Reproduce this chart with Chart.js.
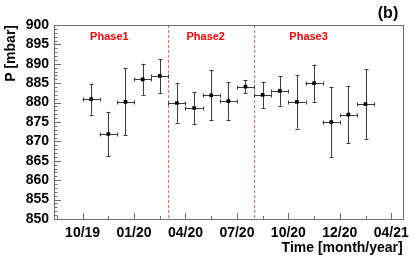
<!DOCTYPE html>
<html>
<head>
<meta charset="utf-8">
<script src="https://cdn.jsdelivr.net/npm/chart.js@4.4.1/dist/chart.umd.min.js"></script>
<style>
html,body{margin:0;padding:0;background:#fff;}
canvas{display:block;}
</style>
</head>
<body>
<canvas id="c" width="415" height="259"></canvas>
<script>
// ---- data (months since 10/19 tick) ----
const months = [0.5,1.5,2.5,3.5,4.5,5.5,6.5,7.5,8.5,9.5,10.5,11.5,12.5,13.5,14.5,15.5,16.5];
const pressure = [880.9,871.9,880.2,886.0,886.9,879.9,878.6,881.9,880.4,884.1,882.0,883.0,880.2,885.0,875.0,876.9,879.6];
const pressureErr = [4.0,5.7,8.6,4.0,4.4,5.1,4.1,6.5,4.8,1.6,3.4,3.8,6.9,4.8,9.0,7.4,9.0];
const monthHalfWidth = 0.5;
const tickMonths = [0,3,6,9,12,15,18];
const tickLabels = ['10/19','01/20','04/20','07/20','10/20','12/20','04/21'];
const phaseBoundaries = [5,10];
const phaseNames = ['Phase1','Phase2','Phase3'];
const phaseLabelMonths = [1.56,7.18,13.18];

const FONT = '"Liberation Sans", Arial, Helvetica, sans-serif';

const decor = {
  id: 'decor',
  beforeDatasetsDraw(chart) {
    const ctx = chart.ctx, xs = chart.scales.x, ys = chart.scales.y, a = chart.chartArea;
    ctx.save();
    // phase separators
    ctx.strokeStyle = 'rgba(255,70,70,0.85)';
    ctx.lineWidth = 1;
    ctx.setLineDash([3,2]);
    phaseBoundaries.forEach(m => {
      const x = Math.round(xs.getPixelForValue(m)) + 0.5;
      ctx.beginPath(); ctx.moveTo(x, a.top); ctx.lineTo(x, a.bottom); ctx.stroke();
    });
    ctx.setLineDash([]);
    // error bars
    ctx.strokeStyle = '#3a3a3a';
    months.forEach((m, i) => {
      const x = Math.round(xs.getPixelForValue(m)) + 0.5;
      const y = Math.round(ys.getPixelForValue(pressure[i])) + 0.5;
      const yt = ys.getPixelForValue(pressure[i] + pressureErr[i]);
      const yb = ys.getPixelForValue(pressure[i] - pressureErr[i]);
      const xl = xs.getPixelForValue(m - monthHalfWidth);
      const xr = xs.getPixelForValue(m + monthHalfWidth);
      ctx.beginPath();
      ctx.moveTo(x, yt); ctx.lineTo(x, yb);
      ctx.moveTo(xl, y); ctx.lineTo(xr, y);
      // caps
      ctx.moveTo(x - 2, Math.round(yt) + 0.5); ctx.lineTo(x + 2, Math.round(yt) + 0.5);
      ctx.moveTo(x - 2, Math.round(yb) + 0.5); ctx.lineTo(x + 2, Math.round(yb) + 0.5);
      ctx.moveTo(Math.round(xl) + 0.5, y - 2); ctx.lineTo(Math.round(xl) + 0.5, y + 2);
      ctx.moveTo(Math.round(xr) + 0.5, y - 2); ctx.lineTo(Math.round(xr) + 0.5, y + 2);
      ctx.stroke();
    });
    ctx.restore();
  },
  afterDraw(chart) {
    const ctx = chart.ctx, xs = chart.scales.x, ys = chart.scales.y, a = chart.chartArea;
    ctx.save();
    // frame
    ctx.strokeStyle = '#6e6e6e';
    ctx.lineWidth = 1;
    ctx.strokeRect(Math.round(a.left) + 0.5, Math.round(a.top) + 0.5,
                   Math.round(a.right - a.left), Math.round(a.bottom - a.top));
    // y ticks (inside)
    ctx.beginPath();
    for (let v = ys.min; v <= ys.max; v += 1) {
      const y = Math.round(ys.getPixelForValue(v)) + 0.5;
      const len = (v % 5 === 0) ? 7 : 3.5;
      ctx.moveTo(a.left, y); ctx.lineTo(a.left + len, y);
    }
    // x ticks (inside)
    for (let m = -1.5; m <= xs.max; m += 1.5) {
      if (m < xs.min) continue;
      const x = Math.round(xs.getPixelForValue(m)) + 0.5;
      const len = (Math.abs(m % 3) < 1e-6) ? 6 : 3;
      ctx.moveTo(x, a.bottom); ctx.lineTo(x, a.bottom - len);
    }
    ctx.stroke();
    // phase labels
    ctx.fillStyle = '#ff0000';
    ctx.font = 'bold 11px ' + FONT;
    ctx.textAlign = 'center';
    ctx.textBaseline = 'middle';
    phaseNames.forEach((n, i) => {
      ctx.fillText(n, xs.getPixelForValue(phaseLabelMonths[i]), a.top + 12);
    });
    // axis titles
    ctx.fillStyle = '#000';
    ctx.font = 'bold 14px ' + FONT;
    ctx.textAlign = 'right';
    ctx.fillText('Time [month/year]', a.right, 248);
    ctx.save();
    ctx.translate(11, a.top);
    ctx.rotate(-Math.PI / 2);
    ctx.textAlign = 'right';
    ctx.textBaseline = 'middle';
    ctx.fillText('P [mbar]', 0, 0);
    ctx.restore();
    // panel tag
    ctx.font = 'bold 16px ' + FONT;
    ctx.textAlign = 'center';
    ctx.fillText('(b)', 388, 14);
    ctx.restore();
  }
};

new Chart(document.getElementById('c'), {
  type: 'scatter',
  data: {
    datasets: [{
      data: months.map((m, i) => ({ x: m, y: pressure[i] })),
      pointStyle: 'rect',
      pointRadius: 2.6,
      pointBorderWidth: 0,
      pointBackgroundColor: '#000',
      backgroundColor: '#000',
      borderColor: '#000',
      showLine: false
    }]
  },
  options: {
    responsive: false,
    animation: false,
    devicePixelRatio: 1,
    layout: { padding: { top: 25, right: 8, left: 0, bottom: 0 } },
    plugins: { legend: { display: false }, tooltip: { enabled: false } },
    scales: {
      x: {
        type: 'linear',
        position: 'bottom',
        min: -1.67, max: 18.67,
        afterBuildTicks: (s) => { s.ticks = tickMonths.map(v => ({ value: v })); },
        afterFit: (s) => { s.height = 40; },
        grid: { display: false, drawTicks: false },
        border: { display: false },
        ticks: {
          autoSkip: false, maxRotation: 0, minRotation: 0, padding: 6,
          color: '#000', font: { family: FONT, size: 14, weight: 'bold' },
          callback: (v) => { const i = tickMonths.indexOf(v); return i >= 0 ? tickLabels[i] : ''; }
        }
      },
      y: {
        type: 'linear',
        min: 850, max: 900,
        afterFit: (s) => { s.width = 54; },
        grid: { display: false, drawTicks: false },
        border: { display: false },
        ticks: {
          stepSize: 5, autoSkip: false, padding: 5,
          color: '#000', font: { family: FONT, size: 14, weight: 'bold' }
        }
      }
    }
  },
  plugins: [decor]
});
</script>
</body>
</html>
